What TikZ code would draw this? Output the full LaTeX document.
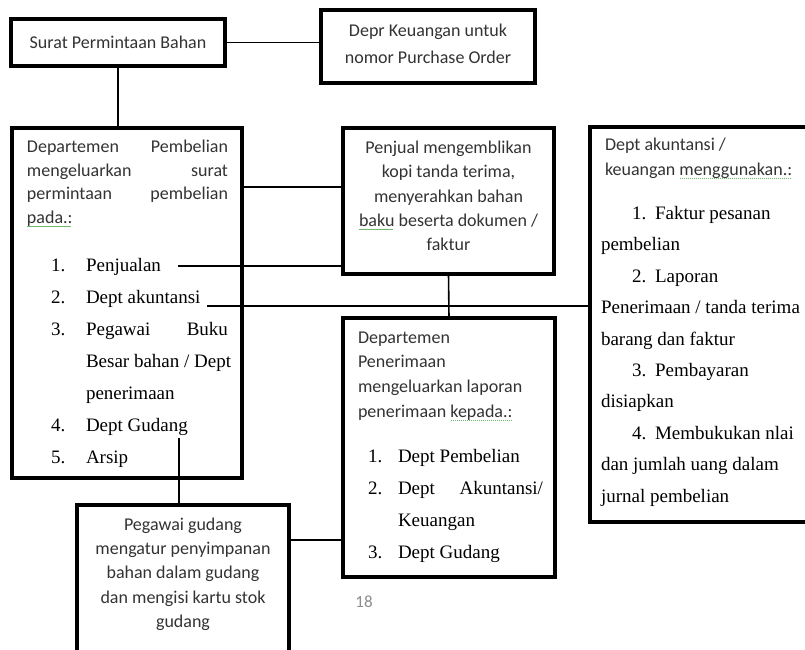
\documentclass[tikz,border=0pt]{standalone}
\usepackage{fontspec}
\newfontfamily\carl{Carlito}
\newfontfamily\tms{Liberation Serif}
\definecolor{spellgreen}{RGB}{110,185,110}
\newsavebox\gbox
\newcommand\gline[1]{\sbox\gbox{#1}\rlap{\color{spellgreen}\hbox to \wd\gbox{\leaders\hbox to 2pt{\hss\rule[-3.5pt]{1.3pt}{1pt}\hss}\hfill}}\usebox\gbox}
\begin{document}
\begin{tikzpicture}[x=1pt,y=-1pt,
  box/.style={draw, line width=3.8pt, inner sep=0pt, outer sep=0pt},
  conn/.style={line width=1.6pt},
  sans/.style={font=\carl\fontsize{18}{21}\selectfont, text=black!80, inner sep=0pt, outer sep=0pt},
  ser/.style={font=\tms\fontsize{19}{23}\selectfont, inner sep=0pt, outer sep=0pt},
  pnum/.style={font=\carl\fontsize{17}{20}\selectfont, text=black!45, inner sep=0pt}
]
\fill[white] (0,0) rectangle (805,649);
\clip (0,0) rectangle (805,649);

% boxes
\node[box, minimum width=214pt, minimum height=47pt] (A) at (118,42.5) {};
\node[box, minimum width=214pt, minimum height=73pt] (B) at (428,46.5) {};
\node[box, minimum width=230pt, minimum height=350pt] (C) at (127,303) {};
\node[box, minimum width=211pt, minimum height=146pt] (D) at (448.5,201) {};
\node[box, minimum width=225pt, minimum height=395pt] (E) at (702.5,324.5) {};
\node[box, minimum width=212pt, minimum height=259pt] (F) at (449,447.5) {};
\node[box, minimum width=212pt, minimum height=160pt] (G) at (183,585) {};

% connectors
\coordinate (p1) at (178,266);
\coordinate (p2) at (207,306);
\coordinate (p3) at (179,438);
\draw[conn] (A.east) -- (B.west |- A.east);
\draw[conn] (A.south) -- (C.north -| A.south);
\draw[conn] (C.north east |- 0,187) -- (D.north west |- 0,187);
\draw[conn] (p1) -- (p1 -| D.west);
\draw[conn] (p2) -- (p2 -| E.west);
\draw[conn] (D.south) -- (F.north);
\draw[conn] (p3) -- (p3 |- G.north);
\draw[conn] (G.north east |- 0,540) -- (F.north west |- 0,540);

% A, B
\node[sans, anchor=base] (ta) at (118,48) {Surat Permintaan Bahan};
\node[sans, anchor=base] (tb1) at (428,36) {Depr Keuangan untuk};
\node[sans, anchor=base] (tb2) at (428,63) {nomor Purchase Order};

% C
\node[sans, anchor=base west, text width=201pt] (c1) at (27,152) {Departemen\hfill Pembelian};
\node[sans, anchor=base west, text width=201pt] (c2) at (27,176) {mengeluarkan\hfill surat};
\node[sans, anchor=base west, text width=201pt] (c3) at (27,199) {permintaan\hfill pembelian};
\node[sans, anchor=base west] (c4) at (27,223) {\gline{pada.:}};
\node[ser, anchor=base west] (cn1) at (51,271.5) {1.};
\node[ser, anchor=base west] (pen) at (86,271.5) {Penjualan};
\node[ser, anchor=base west] (cn2) at (51,303.5) {2.};
\node[ser, anchor=base west] (ak) at (86,303.5) {Dept akuntansi};
\node[ser, anchor=base west] (cn3) at (51,335.5) {3.};
\node[ser, anchor=base west, text width=142pt] (pg) at (86,335.5) {Pegawai\hfill Buku};
\node[ser, anchor=base west] (bs) at (86,367.5) {Besar bahan / Dept};
\node[ser, anchor=base west] (pn) at (86,399.5) {penerimaan};
\node[ser, anchor=base west] (cn4) at (51,431.5) {4.};
\node[ser, anchor=base west] (gd) at (86,431.5) {Dept Gudang};
\node[ser, anchor=base west] (cn5) at (51,463.5) {5.};
\node[ser, anchor=base west] (ar) at (86,463.5) {Arsip};

% D
\node[sans, anchor=base] (d1) at (448.5,153) {Penjual mengemblikan};
\node[sans, anchor=base] (d2) at (448.5,177) {kopi tanda terima,};
\node[sans, anchor=base] (d3) at (448.5,202) {menyerahkan bahan};
\node[sans, anchor=base] (d4) at (448.5,226) {\gline{baku} beserta dokumen /};
\node[sans, anchor=base] (d5) at (448.5,250) {faktur};

% E
\node[sans, anchor=base west] (e1) at (605,150) {Dept akuntansi /};
\node[sans, anchor=base west] (e2) at (605,175) {keuangan \gline{menggunakan.:}};
\node[ser, anchor=base west] (en1) at (632,219.5) {1.};
\node[ser, anchor=base west] (e3) at (655,219.5) {Faktur pesanan};
\node[ser, anchor=base west] (e4) at (601,250.9) {pembelian};
\node[ser, anchor=base west] (en2) at (632,282.3) {2.};
\node[ser, anchor=base west] (e5) at (655,282.3) {Laporan};
\node[ser, anchor=base west] (e6) at (601,313.7) {Penerimaan / tanda terima};
\node[ser, anchor=base west] (e7) at (601,345.1) {barang dan faktur};
\node[ser, anchor=base west] (en3) at (632,376.5) {3.};
\node[ser, anchor=base west] (e8) at (655,376.5) {Pembayaran};
\node[ser, anchor=base west] (e9) at (601,407.9) {disiapkan};
\node[ser, anchor=base west] (en4) at (632,439.3) {4.};
\node[ser, anchor=base west] (e10) at (655,439.3) {Membukukan nlai};
\node[ser, anchor=base west] (e11) at (601,470.7) {dan jumlah uang dalam};
\node[ser, anchor=base west] (e12) at (601,502.1) {jurnal pembelian};

% F
\node[sans, anchor=base west] (f1) at (358,343) {Departemen};
\node[sans, anchor=base west] (f2) at (358,367.5) {Penerimaan};
\node[sans, anchor=base west] (f3) at (358,392.5) {mengeluarkan laporan};
\node[sans, anchor=base west] (f4) at (358,417) {penerimaan \gline{kepada.:}};
\node[ser, anchor=base west] (fn1) at (368,462) {1.};
\node[ser, anchor=base west] (f5) at (398,462) {Dept Pembelian};
\node[ser, anchor=base west] (fn2) at (368,494) {2.};
\node[ser, anchor=base west, text width=145pt] (f6) at (398,494) {Dept\hfill Akuntansi/};
\node[ser, anchor=base west] (f7) at (398,526) {Keuangan};
\node[ser, anchor=base west] (fn3) at (368,558) {3.};
\node[ser, anchor=base west] (f8) at (398,558) {Dept Gudang};

% G
\node[sans, anchor=base] (g1) at (183,530) {Pegawai gudang};
\node[sans, anchor=base] (g2) at (183,554) {mengatur penyimpanan};
\node[sans, anchor=base] (g3) at (183,578) {bahan dalam gudang};
\node[sans, anchor=base] (g4) at (183,603) {dan mengisi kartu stok};
\node[sans, anchor=base] (g5) at (183,627) {gudang};

% page number
\node[pnum, anchor=base] (pg18) at (364,607) {18};
\end{tikzpicture}
\end{document}
